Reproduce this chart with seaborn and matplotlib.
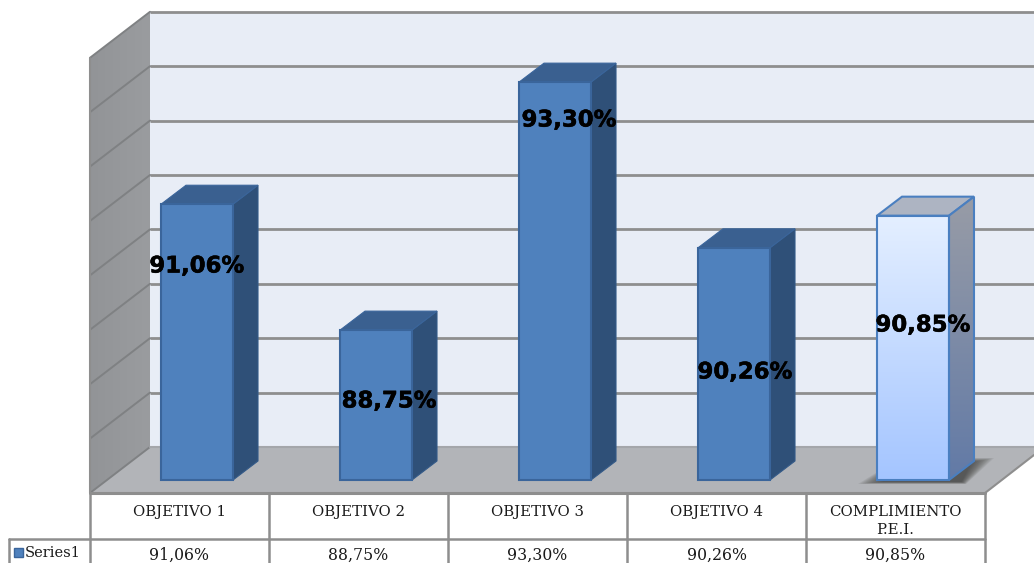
"""
3D style column chart with a data table underneath.
"""

import numpy as np
import matplotlib.pyplot as plt
import matplotlib.colors as mcolors
import matplotlib.patheffects as pe
import seaborn as sns

categories = ["OBJETIVO 1", "OBJETIVO 2", "OBJETIVO 3", "OBJETIVO 4", "COMPLIMIENTO\nP.E.I."]
values = np.array([91.06, 88.75, 93.30, 90.26, 90.85])
series_name = "Series1"
axis_ticks = [86, 87, 88, 89, 90, 91, 92, 93, 94]

# layout, in pixels of the 1034x563 picture
W, H = 1034, 563
PX_PER_PCT = 54.5
BASE_PX = 480
FIRST_CENTER = 197
STEP = 179
BAR_W = 72
DEPTH_X, DEPTH_Y = 25, 19
label_x = [197, 389, 569, 745, 923]
label_y = [266, 401, 120, 372, 325]
table_x = [90, 269, 448, 627, 806, 985]

FRONT = "#4f81bd"
SIDE = "#2f5078"
TOP = "#3a6090"
EDGE = "#3a659b"
GRID = "#8e8e8e"

def pct(s):
    return s.replace(".", ",") + "%"

sns.set_theme(style="white")
plt.rcParams["font.family"] = ["DejaVu Serif"]

fig = plt.figure(figsize=(W / 100, H / 100), dpi=100, facecolor="white")

# chart box and table, in pixel coordinates
bg = fig.add_axes([0, 0, 1, 1])
bg.set_xlim(0, W)
bg.set_ylim(H, 0)
bg.axis("off")

bg.fill([150, W, W, 150], [12, 12, 447, 447], color="#e8edf6", lw=0, zorder=1)
bg.fill([90, 150, W, W, 985], [493, 447, 447, 455, 493], color="#b2b4b8", lw=0, zorder=1)

wall = bg.imshow(
    np.linspace(0, 1, 64).reshape(1, -1),
    extent=[90, 150, 493, 12],
    cmap=mcolors.LinearSegmentedColormap.from_list("wall", ["#929497", "#9a9c9f"]),
    aspect="auto",
    zorder=1,
)
wall_poly = bg.fill([90, 150, 150, 90], [58, 12, 447, 493], color="none", lw=0)[0]
wall.set_clip_path(wall_poly)
bg.set_xlim(0, W)
bg.set_ylim(H, 0)

for t in axis_ticks:
    back_y = 447 - (t - axis_ticks[0]) * 54.4
    front_y = back_y + 46
    if t > axis_ticks[0]:
        bg.plot([150, W], [back_y, back_y], color=GRID, lw=2, zorder=2, solid_capstyle="butt")
    bg.plot([90, 150], [front_y, back_y], color="#7f8183", lw=1.4, zorder=2)

bg.plot([150, W], [447, 447], color="#a4a6aa", lw=1.5, zorder=2)
bg.plot([90, 90], [58, 493], color=GRID, lw=1.5, zorder=2)
bg.plot([985, W], [493, 455], color=GRID, lw=1.5, zorder=2)

# table
bg.plot([90, 985], [493, 493], color=GRID, lw=2.2, zorder=3)
bg.plot([9, 985], [539, 539], color=GRID, lw=1.8, zorder=3)
bg.plot([9, 9], [539, H], color=GRID, lw=1.8, zorder=3)
for x in table_x:
    bg.plot([x, x], [493, H], color=GRID, lw=1.8, zorder=3)

for i, name in enumerate(categories):
    xc = (table_x[i] + table_x[i + 1]) / 2
    bg.text(xc, 505, name, ha="center", va="top", fontsize=10.7, color="#1a1a1a", linespacing=1.32)
    bg.text(xc, 555, pct(f"{values[i]:.2f}"), ha="center", va="center", fontsize=11.3, color="#1a1a1a")

bg.fill([14, 23, 23, 14], [548, 548, 557, 557], facecolor=FRONT, edgecolor=EDGE, lw=1)
bg.text(25, 553, series_name, ha="left", va="center", fontsize=10.5, color="#1a1a1a")

# shadow under the last bar, soft edge from stacked layers
for k in range(12):
    bg.fill(
        [858 + 2.2 * k, 966 - 0.4 * k, 994 - 2 * k, 900],
        [484 - 0.2 * k, 484 - 0.2 * k, 458 + 0.4 * k, 458 + 0.4 * k],
        color="#303030",
        alpha=0.09,
        lw=0,
        zorder=3,
    )

# bars, on value scales
ax = fig.add_axes([0, 0, 1, 1], facecolor="none")
ax.patch.set_alpha(0)
xlim = (-FIRST_CENTER / STEP, (W - FIRST_CENTER) / STEP)
base = axis_ticks[0]
ylim = (base - (H - BASE_PX) / PX_PER_PCT, base + BASE_PX / PX_PER_PCT)
dx = DEPTH_X / STEP
dy = DEPTH_Y / PX_PER_PCT
half = BAR_W / STEP / 2

colors = [FRONT] * 4 + ["none"]
sns.barplot(
    x=list(range(len(values))),
    y=values - base,
    bottom=base,
    width=BAR_W / STEP,
    palette=colors,
    hue=list(range(len(values))),
    legend=False,
    saturation=1,
    edgecolor=EDGE,
    linewidth=1.5,
    zorder=5,
    ax=ax,
)
for i, bar in enumerate(ax.patches):
    bar.set_edgecolor("#4a7fc0" if i == 4 else EDGE)

for i, v in enumerate(values):
    xs = [i + half, i + half + dx, i + half + dx, i + half]
    ys = [base, base + dy, v + dy, v]
    xt = [i - half, i - half + dx, i + half + dx, i + half]
    yt = [v, v + dy, v + dy, v]
    if i < 4:
        ax.fill(xs, ys, facecolor=SIDE, edgecolor="#345a88", lw=0.8, zorder=4)
        ax.fill(xt, yt, facecolor=TOP, edgecolor=EDGE, lw=0.8, zorder=4)
    else:
        # highlighted bar with gradients
        ax.fill(xt, yt, facecolor="#adb4c2", edgecolor="#4a7fc0", lw=1.5, zorder=4)
        front_img = ax.imshow(
            np.linspace(0, 1, 128).reshape(-1, 1),
            extent=[i - half, i + half, base, v],
            origin="upper",
            cmap=mcolors.LinearSegmentedColormap.from_list("front", ["#e4efff", "#a4c5ff"]),
            aspect="auto",
            zorder=4.5,
        )
        side_img = ax.imshow(
            np.linspace(0, 1, 128).reshape(-1, 1),
            extent=[i + half, i + half + dx, base, v + dy],
            origin="upper",
            cmap=mcolors.LinearSegmentedColormap.from_list("side", ["#989ca6", "#627aa6"]),
            aspect="auto",
            zorder=4,
        )
        side_poly = ax.fill(xs, ys, facecolor="none", edgecolor="#4a7fc0", lw=1.5, zorder=4.6)[0]
        side_img.set_clip_path(side_poly)

ax.set_xlim(*xlim)
ax.set_ylim(*ylim)
ax.axis("off")

# data labels sit in pixel positions
for i, v in enumerate(values):
    ax.text(
        label_x[i] / W,
        1 - label_y[i] / H,
        pct(f"{v:.2f}"),
        transform=ax.transAxes,
        ha="center",
        va="center",
        fontsize=16.4,
        fontweight="bold",
        family=["DejaVu Sans"],
        color="black",
        zorder=10,
        path_effects=[pe.withStroke(linewidth=0.4, foreground="black")],
    )

plt.savefig("out.png", dpi=100)
plt.close()
